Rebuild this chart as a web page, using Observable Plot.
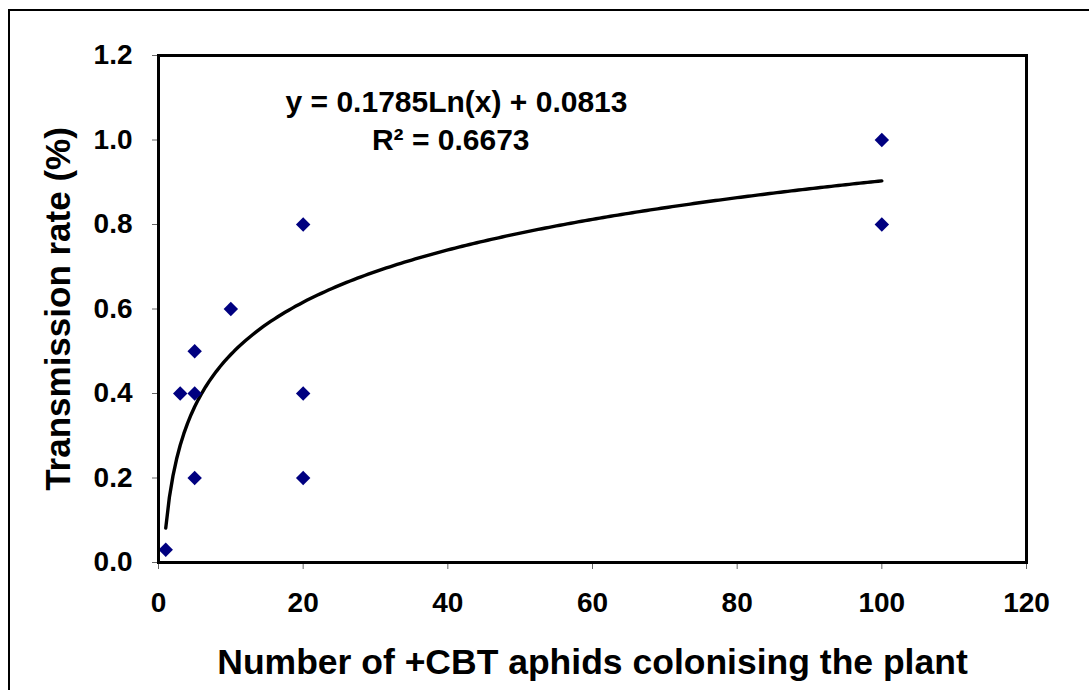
<!DOCTYPE html>
<html><head><meta charset="utf-8">
<script src="https://cdn.jsdelivr.net/npm/d3@7"></script>
<script src="https://cdn.jsdelivr.net/npm/@observablehq/plot@0.6"></script>
<style>
body{margin:0;background:#fff;overflow:hidden}
#wrap{position:relative;width:1089px;height:690px;overflow:hidden}
#border{position:absolute;left:8px;top:9px;width:1200px;height:800px;border-left:2px solid #000;border-top:2px solid #000;pointer-events:none}
</style></head><body><div id="wrap"><div id="border"></div></div>
<script>
const aphids = [1, 3, 5, 5, 5, 10, 20, 20, 20, 100, 100];
const rates  = [0.03, 0.4, 0.4, 0.5, 0.2, 0.6, 0.8, 0.4, 0.2, 1.0, 0.8];
// Axis ticks
const xTicks = [0, 20, 40, 60, 80, 100, 120];
const yTicks = [0, 0.2, 0.4, 0.6, 0.8, 1.0, 1.2];
// Logarithmic trendline as stated on the chart
const trendCoef = [0.1785, 0.0813]; // slope, intercept
const trendRange = [1, 100];
const equationLabel = ["y = 0.1785Ln(x) + 0.0813"];
const r2Label = ["R\u00B2 = 0.6673"];
const xTitle = ["Number of +CBT aphids colonising the plant"];
const yTitle = ["Transmission rate (%)"];

const points = aphids.map((a, i) => ({x: a, y: rates[i]}));
const trend = d3.range(trendRange[0], trendRange[1] + 0.5, 0.5)
  .map(x => ({x, y: trendCoef[0] * Math.log(x) + trendCoef[1]}));

const font = "'Liberation Sans', Arial, sans-serif";
const chart = Plot.plot({
  width: 1089,
  height: 690,
  marginLeft: 158,
  marginRight: 63,
  marginTop: 55,
  marginBottom: 128,
  style: {fontFamily: font, fontSize: "28px", fontWeight: "bold", color: "#000", background: "transparent", overflow: "visible"},
  x: {domain: [0, 120]},
  y: {domain: [0, 1.2]},
  marks: [
    Plot.axisX({ticks: xTicks, tickSize: 7, tickPadding: 23, stroke: "#666", tickFormat: d => String(d), label: null}),
    Plot.axisY({ticks: yTicks, tickSize: 6, tickPadding: 20, stroke: "#666", tickFormat: d => d.toFixed(1), label: null}),
    Plot.line(trend, {x: "x", y: "y", stroke: "#000", strokeWidth: 3.4}),
    Plot.dot(points, {x: "x", y: "y", symbol: "diamond2", r: 6.5, fill: "#000080", stroke: "none"}),
    Plot.frame({stroke: "#000", strokeWidth: 3}),
    Plot.text(equationLabel, {x: 41.2, y: 1.089, text: d => d, fontSize: 30, fontWeight: "bold", fill: "#000"}),
    Plot.text(r2Label, {x: 40.4, y: 0.999, text: d => d, fontSize: 30, fontWeight: "bold", fill: "#000"}),
    Plot.text(xTitle, {frameAnchor: "bottom", dy: 100, textAnchor: "middle", lineAnchor: "middle", text: d => d, fontSize: 35.5, fontWeight: "bold", fill: "#000"}),
    Plot.text(yTitle, {frameAnchor: "left", dx: -100, rotate: -90, textAnchor: "middle", lineAnchor: "middle", text: d => d, fontSize: 35, fontWeight: "bold", fill: "#000"})
  ]
});
chart.style.position = "absolute";
chart.style.left = "0";
chart.style.top = "0";
document.getElementById("wrap").prepend(chart);
</script>
</body></html>
